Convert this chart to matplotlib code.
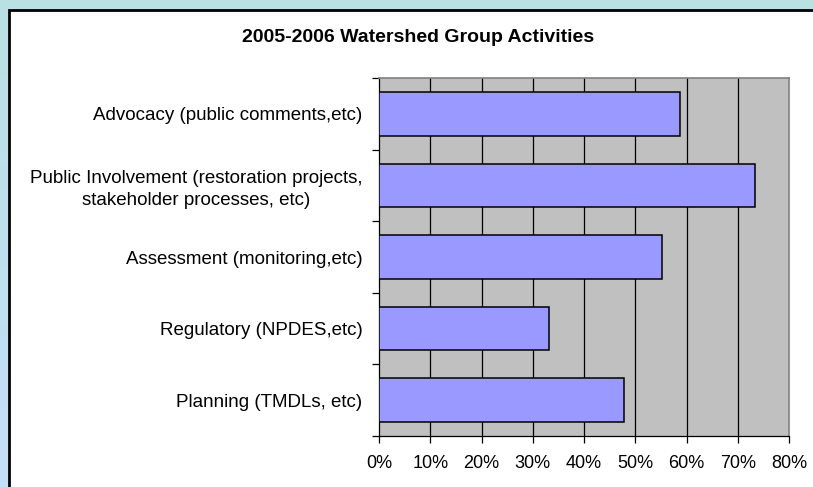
import numpy as np
import matplotlib
matplotlib.use('Agg')
from matplotlib import pyplot as plt
from matplotlib.patches import Rectangle
from matplotlib.colors import LinearSegmentedColormap

plt.rcParams['font.family'] = ['Liberation Sans', 'DejaVu Sans']

title = "2005-2006 Watershed Group Activities"
categories = ["Advocacy (public comments,etc)",
              "Public Involvement (restoration projects,\nstakeholder processes, etc)",
              "Assessment (monitoring,etc)",
              "Regulatory (NPDES,etc)",
              "Planning (TMDLs, etc)"]
values = [0.587, 0.734, 0.552, 0.331, 0.478]
xticks = [0, 0.1, 0.2, 0.3, 0.4, 0.5, 0.6, 0.7, 0.8]

W, H = 813, 487
fig = plt.figure(figsize=(W / 100, H / 100), dpi=100)

# background frame with soft gradient
bg = fig.add_axes([0, 0, 1, 1])
cmap = LinearSegmentedColormap.from_list('frame', ['#b9e1e4', '#c6def8'])
bg.imshow(np.linspace(0, 1, 100).reshape(-1, 1), aspect='auto', cmap=cmap,
          extent=[0, W, H, 0])
bg.add_patch(Rectangle((9, 10), W + 20, H + 20, facecolor='white', edgecolor='black', lw=2))
bg.set_xlim(0, W)
bg.set_ylim(H, 0)
bg.axis('off')

ax = fig.add_axes([379 / W, 1 - 436 / H, 410 / W, 358 / H])
ax.set_facecolor('#c0c0c0')

y = np.arange(len(categories))
ax.barh(y, values, height=0.61, color='#9999ff', edgecolor='black', lw=1.1, zorder=3)
ax.set_ylim(len(categories) - 0.5, -0.5)
ax.set_xlim(0, 0.8)

for v in xticks[1:-1]:
    ax.axvline(v, color='black', lw=0.9, zorder=1)

ax.set_xticks(xticks)
ax.set_xticklabels(['%d%%' % round(v * 100) for v in xticks], fontsize=13)
ax.tick_params(axis='x', direction='out', length=5, width=0.9, pad=9)

ax.set_yticks(y)
ax.set_yticklabels(categories, fontsize=13.5, ha='right', multialignment='center',
                   linespacing=1.35)
ax.tick_params(axis='y', which='major', length=0, pad=12)
ax.set_yticks(np.arange(len(categories) + 1) - 0.5, minor=True)
ax.tick_params(axis='y', which='minor', direction='out', length=5, width=0.9)

for side in ['left', 'bottom']:
    ax.spines[side].set_color('black')
    ax.spines[side].set_linewidth(0.9)
for side in ['top', 'right']:
    ax.spines[side].set_color('#808080')
    ax.spines[side].set_linewidth(1.2)

fig.text(418 / W, 1 - 37 / H, title, ha='center', va='center',
         fontsize=14, fontweight='bold')

plt.savefig('out.png', dpi=100)
